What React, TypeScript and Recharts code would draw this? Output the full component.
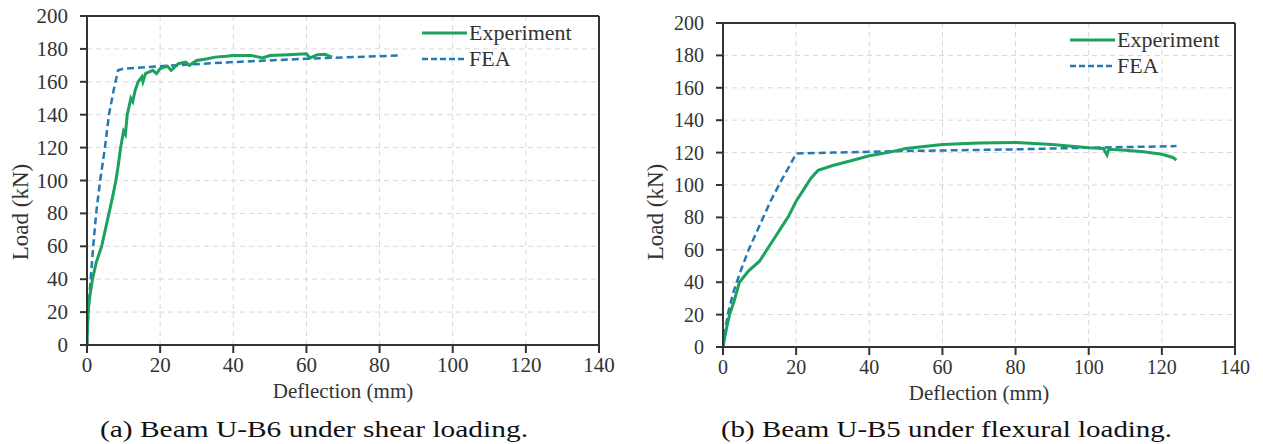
import * as React from "react";
import {
  LineChart,
  Line,
  XAxis,
  YAxis,
  CartesianGrid,
  ReferenceLine,
} from "recharts";

const xTicks = [0, 20, 40, 60, 80, 100, 120, 140];
const yTicks = [0, 20, 40, 60, 80, 100, 120, 140, 160, 180, 200];

// (a) Beam U-B6 under shear loading
const shearExpX = [0, 0.2, 0.4, 0.8, 1.5, 2.5, 4, 5, 6, 7, 7.9, 8.6, 9.2, 10, 10.5, 11, 12, 12.5, 13.2, 14, 15, 15.3, 16, 18, 19, 20, 22, 23, 25, 27, 28, 30, 33, 35, 38, 40, 45, 48, 50, 55, 60, 61, 63, 65, 67];
const shearExpY = [0, 15, 22, 30, 40, 50, 60, 70, 80, 90, 100, 110, 120, 130, 128, 140, 150, 148, 155, 160, 163, 160, 165, 167, 165, 168, 169.5, 167, 171, 172, 170, 173, 174, 175, 175.5, 176, 176, 174.5, 176, 176.5, 177, 174.5, 176.5, 176.8, 175];
const shearFeaX = [0, 0.35, 1, 1.7, 2.5, 3.6, 4.9, 6, 7.3, 8.5, 10, 20, 40, 60, 85];
const shearFeaY = [0, 20, 40, 60, 80, 100, 120, 140, 155, 167, 168, 169.5, 172, 174, 176];

// (b) Beam U-B5 under flexural loading
const flexExpX = [0, 1, 1.8, 3, 4.5, 7, 10, 12, 14, 16, 18, 20, 22, 24, 26, 30, 35, 40, 45, 50, 60, 70, 80, 90, 100, 104, 105, 105.5, 110, 115, 120, 123, 124];
const flexExpY = [0, 12, 20, 28, 40, 47, 53, 60, 67, 74, 81, 90, 97, 104, 109, 112, 115, 118, 120, 122.5, 125, 126, 126.3, 125, 123, 122.5, 118.5, 122, 121.5, 120.5, 119, 117, 115.5];
const flexFeaX = [0, 0.7, 1.5, 3, 5, 7, 10, 13, 16, 18.5, 20, 30, 50, 80, 100, 124];
const flexFeaY = [0, 12, 22, 35, 48, 60, 75, 90, 103, 113, 119.5, 120, 121, 122, 123, 124];

const toPoints = (xs: number[], ys: number[]) => xs.map((x, i) => ({ x, y: ys[i] }));

const GREEN = "#1aa25e";
const BLUE = "#2379b4";
const INK = "#333333";
const FONT = "Liberation Serif";

type PanelProps = {
  left: number;
  top: number;
  margin: { top: number; right: number; bottom: number; left: number };
  tickFont: number;
  exp: { x: number; y: number }[];
  fea: { x: number; y: number }[];
  legendX: number;
  legendY: number;
  yTitleX: number;
  titleY: number;
};

function Panel(p: PanelProps) {
  const W = 620;
  const H = 400;
  const plotL = p.margin.left + 60;
  const plotR = W - p.margin.right;
  const XTick = ({ x, y, payload }: any) => (
    <text x={x} y={y} dy={15} textAnchor="middle" style={{ fontSize: p.tickFont, fontFamily: FONT }} fill={INK}>
      {payload.value}
    </text>
  );
  const YTick = ({ x, y, payload }: any) => (
    <text x={x} y={y} dy={7} textAnchor="end" style={{ fontSize: p.tickFont, fontFamily: FONT }} fill={INK}>
      {payload.value}
    </text>
  );
  return (
    <div style={{ position: "absolute", left: p.left, top: p.top, width: W, height: H }}>
      <LineChart width={W} height={H} margin={p.margin}>
        <CartesianGrid stroke="#d8d8d8" strokeDasharray="5 4" />
        <XAxis
          type="number"
          dataKey="x"
          domain={[0, 140]}
          ticks={xTicks}
          height={40}
          stroke={INK}
          strokeWidth={2}
          tickSize={8}
          tickMargin={4}
          tick={<XTick />}
          allowDataOverflow
        />
        <YAxis
          type="number"
          dataKey="y"
          domain={[0, 200]}
          ticks={yTicks}
          width={60}
          stroke={INK}
          strokeWidth={2}
          tickSize={7}
          tickMargin={12}
          tick={<YTick />}
          allowDataOverflow
        />
        <ReferenceLine y={200} stroke={INK} strokeWidth={2} />
        <ReferenceLine x={140} stroke={INK} strokeWidth={2} />
        <Line
          data={p.fea}
          dataKey="y"
          type="linear"
          stroke={BLUE}
          strokeWidth={2.5}
          strokeDasharray="7 4"
          dot={false}
          isAnimationActive={false}
        />
        <Line
          data={p.exp}
          dataKey="y"
          type="linear"
          stroke={GREEN}
          strokeWidth={3}
          dot={false}
          isAnimationActive={false}
        />
      </LineChart>
      <svg width={W} height={420} style={{ position: "absolute", left: 0, top: 0, pointerEvents: "none", fontFamily: FONT }}>
        <line x1={p.legendX} x2={p.legendX + 45} y1={p.legendY} y2={p.legendY} stroke={GREEN} strokeWidth={3} />
        <text x={p.legendX + 47} y={p.legendY + 7} fontSize={22} fill={INK}>
          Experiment
        </text>
        <line
          x1={p.legendX}
          x2={p.legendX + 45}
          y1={p.legendY + 26}
          y2={p.legendY + 26}
          stroke={BLUE}
          strokeWidth={2.5}
          strokeDasharray="6 3"
        />
        <text x={p.legendX + 47} y={p.legendY + 33} fontSize={22} fill={INK}>
          FEA
        </text>
        <text x={(plotL + plotR) / 2} y={p.titleY} textAnchor="middle" fontSize={21} fill={INK}>
          Deflection (mm)
        </text>
        <text
          x={p.yTitleX}
          y={212}
          textAnchor="middle"
          dominantBaseline="central"
          transform={`rotate(-90 ${p.yTitleX} 212)`}
          fontSize={23}
          fill={INK}
        >
          Load (kN)
        </text>
      </svg>
    </div>
  );
}

export default function App() {
  return (
    <div style={{ position: "absolute", left: 0, top: 0, width: 1263, height: 444, background: "#fff", overflow: "hidden" }}>
      <Panel
        left={0}
        top={0}
        margin={{ top: 16, right: 21, bottom: 15, left: 27 }}
        tickFont={21}
        exp={toPoints(shearExpX, shearExpY)}
        fea={toPoints(shearFeaX, shearFeaY)}
        legendX={422}
        legendY={33}
        yTitleX={20}
        titleY={398}
      />
      <Panel
        left={630}
        top={0}
        margin={{ top: 23, right: 15, bottom: 13, left: 33 }}
        tickFont={20}
        exp={toPoints(flexExpX, flexExpY)}
        fea={toPoints(flexFeaX, flexFeaY)}
        legendX={440}
        legendY={40}
        yTitleX={25}
        titleY={400}
      />
      <svg width={1263} height={444} style={{ position: "absolute", left: 0, top: 0, pointerEvents: "none", fontFamily: FONT }}>
        <text x={100} y={437} fontSize={23} fill="#111" textLength={428} lengthAdjust="spacingAndGlyphs">
          (a) Beam U-B6 under shear loading.
        </text>
        <text x={721} y={437} fontSize={23} fill="#111" textLength={451} lengthAdjust="spacingAndGlyphs">
          (b) Beam U-B5 under flexural loading.
        </text>
      </svg>
    </div>
  );
}
